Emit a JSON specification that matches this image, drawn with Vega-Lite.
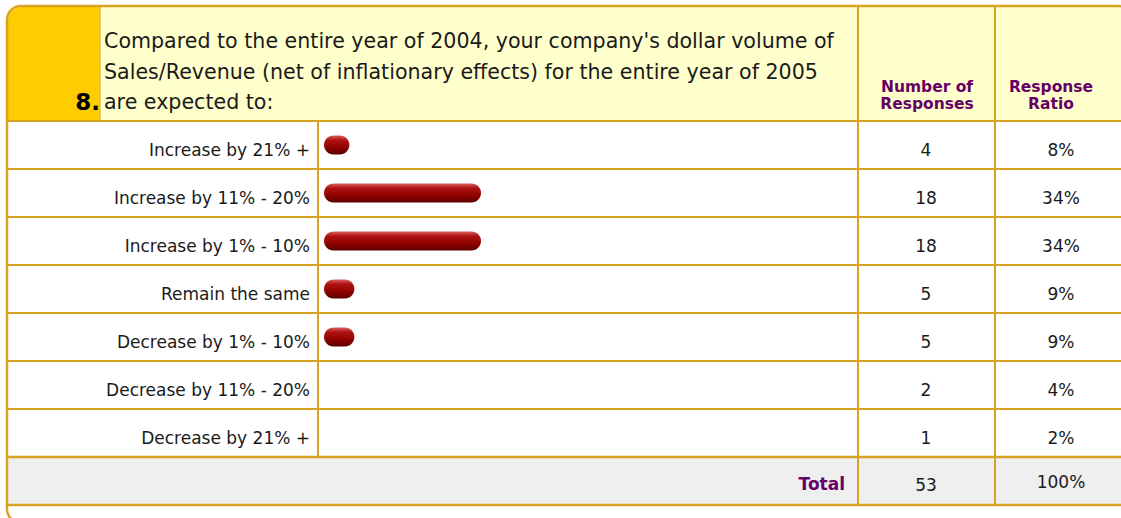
{
  "$schema": "https://vega.github.io/schema/vega-lite/v6.json",
  "width": 1121,
  "height": 518,
  "padding": 0,
  "autosize": {"type": "none"},
  "background": "white",
  "config": {"view": {"stroke": null}},
  "datasets": {
    "answers": [
      {"answer": "Increase by 21% +", "count": 4, "ratio": 0.08},
      {"answer": "Increase by 11% - 20%", "count": 18, "ratio": 0.34},
      {"answer": "Increase by 1% - 10%", "count": 18, "ratio": 0.34},
      {"answer": "Remain the same", "count": 5, "ratio": 0.09},
      {"answer": "Decrease by 1% - 10%", "count": 5, "ratio": 0.09},
      {"answer": "Decrease by 11% - 20%", "count": 2, "ratio": 0.04},
      {"answer": "Decrease by 21% +", "count": 1, "ratio": 0.02}
    ],
    "total": [
      {"answer": "Total", "count": 53, "ratio": 1.0}
    ],
    "question": [
      {"number": "8.", "text": "Compared to the entire year of 2004, your company's dollar volume of\nSales/Revenue (net of inflationary effects) for the entire year of 2005\nare expected to:", "countHeader": "Number of\nResponses", "ratioHeader": "Response\nRatio"}
    ]
  },
  "layer": [
    {
      "data": {"name": "question"},
      "mark": {"type": "rect", "fill": "#FFFFCC", "cornerRadiusTopRight": 14},
      "encoding": {"x": {"value": 8}, "x2": {"value": 1128}, "y": {"value": 7}, "y2": {"value": 120}}
    },
    {
      "data": {"name": "question"},
      "mark": {"type": "rect", "fill": "#FFCC00", "cornerRadiusTopLeft": 14},
      "encoding": {"x": {"value": 8}, "x2": {"value": 100}, "y": {"value": 7}, "y2": {"value": 120}}
    },
    {
      "data": {"name": "total"},
      "mark": {"type": "rect", "fill": "#EFEFEF"},
      "encoding": {
        "y": {"field": "answer", "type": "nominal", "axis": null,
              "scale": {"type": "band", "domain": ["Increase by 21% +", "Increase by 11% - 20%", "Increase by 1% - 10%", "Remain the same", "Decrease by 1% - 10%", "Decrease by 11% - 20%", "Decrease by 21% +", "Total"], "range": [121, 505], "paddingInner": 0, "paddingOuter": 0}},
        "x": {"value": 8}, "x2": {"value": 1128}
      }
    },
    {
      "data": {"name": "answers"},
      "transform": [{"filter": "datum.ratio >= 0.05"}],
      "mark": {"type": "bar", "height": 19, "cornerRadius": 9.5,
               "color": {"gradient": "linear", "x1": 0, "y1": 0, "x2": 0, "y2": 1,
                         "stops": [{"offset": 0, "color": "#d86060"}, {"offset": 0.25, "color": "#ad1212"}, {"offset": 0.7, "color": "#8a0000"}, {"offset": 1, "color": "#5a0000"}]}},
      "encoding": {
        "y": {"field": "answer", "type": "nominal", "axis": null,
              "scale": {"type": "band", "domain": ["Increase by 21% +", "Increase by 11% - 20%", "Increase by 1% - 10%", "Remain the same", "Decrease by 1% - 10%", "Decrease by 11% - 20%", "Decrease by 21% +", "Total"], "range": [121, 505], "paddingInner": 0, "paddingOuter": 0}},
        "x": {"field": "ratio", "type": "quantitative", "axis": null,
              "scale": {"domain": [0.03, 0.34], "range": [324, 481], "clamp": true, "zero": false, "nice": false}},
        "x2": {"datum": 0}
      }
    },
    {
      "data": {"name": "answers"},
      "mark": {"type": "rule", "color": "#D6A422", "strokeWidth": 2},
      "encoding": {
        "y": {"field": "answer", "type": "nominal", "axis": null, "bandPosition": 0,
              "scale": {"type": "band", "domain": ["Increase by 21% +", "Increase by 11% - 20%", "Increase by 1% - 10%", "Remain the same", "Decrease by 1% - 10%", "Decrease by 11% - 20%", "Decrease by 21% +", "Total"], "range": [121, 505], "paddingInner": 0, "paddingOuter": 0}},
        "x": {"value": 8}, "x2": {"value": 1128}
      }
    },
    {
      "data": {"name": "total"},
      "mark": {"type": "rule", "color": "#D6A422", "strokeWidth": 2.5},
      "encoding": {
        "y": {"field": "answer", "type": "nominal", "axis": null, "bandPosition": 0,
              "scale": {"type": "band", "domain": ["Increase by 21% +", "Increase by 11% - 20%", "Increase by 1% - 10%", "Remain the same", "Decrease by 1% - 10%", "Decrease by 11% - 20%", "Decrease by 21% +", "Total"], "range": [121, 505], "paddingInner": 0, "paddingOuter": 0}},
        "x": {"value": 8}, "x2": {"value": 1128}
      }
    },
    {
      "data": {"name": "total"},
      "mark": {"type": "rule", "color": "#D6A422", "strokeWidth": 2.5},
      "encoding": {
        "y": {"field": "answer", "type": "nominal", "axis": null, "bandPosition": 1,
              "scale": {"type": "band", "domain": ["Increase by 21% +", "Increase by 11% - 20%", "Increase by 1% - 10%", "Remain the same", "Decrease by 1% - 10%", "Decrease by 11% - 20%", "Decrease by 21% +", "Total"], "range": [121, 505], "paddingInner": 0, "paddingOuter": 0}},
        "x": {"value": 8}, "x2": {"value": 1128}
      }
    },
    {
      "data": {"name": "question"},
      "mark": {"type": "rule", "color": "#D6A422", "strokeWidth": 2},
      "encoding": {"x": {"value": 318}, "y": {"value": 121}, "y2": {"value": 457}}
    },
    {
      "data": {"name": "question"},
      "mark": {"type": "rule", "color": "#D6A422", "strokeWidth": 2},
      "encoding": {"x": {"value": 858}, "y": {"value": 7}, "y2": {"value": 505}}
    },
    {
      "data": {"name": "question"},
      "mark": {"type": "rule", "color": "#D6A422", "strokeWidth": 2},
      "encoding": {"x": {"value": 995}, "y": {"value": 7}, "y2": {"value": 505}}
    },
    {
      "data": {"name": "question"},
      "mark": {"type": "rule", "color": "#D6A422", "strokeWidth": 1},
      "encoding": {"x": {"value": 100}, "y": {"value": 7}, "y2": {"value": 120}}
    },
    {
      "data": {"name": "question"},
      "mark": {"type": "rect", "fill": null, "fillOpacity": 0, "stroke": "#D6A422", "strokeWidth": 2.5, "cornerRadius": 14},
      "encoding": {"x": {"value": 7}, "x2": {"value": 1132}, "y": {"value": 6}, "y2": {"value": 523}}
    },
    {
      "data": {"name": "question"},
      "mark": {"type": "text", "align": "left", "baseline": "alphabetic", "font": "DejaVu Sans", "fontSize": 20.6, "lineHeight": 30.5, "lineBreak": "\n", "color": "#1a1a1a"},
      "encoding": {"x": {"value": 104}, "y": {"value": 48}, "text": {"field": "text", "type": "nominal"}}
    },
    {
      "data": {"name": "question"},
      "mark": {"type": "text", "align": "right", "baseline": "alphabetic", "font": "DejaVu Sans", "fontWeight": "bold", "fontSize": 23, "color": "#000000"},
      "encoding": {"x": {"value": 100}, "y": {"value": 110}, "text": {"field": "number", "type": "nominal"}}
    },
    {
      "data": {"name": "question"},
      "mark": {"type": "text", "align": "center", "baseline": "alphabetic", "font": "DejaVu Sans", "fontWeight": "bold", "fontSize": 15.5, "lineHeight": 17, "lineBreak": "\n", "color": "#660066"},
      "encoding": {"x": {"value": 927}, "y": {"value": 92}, "text": {"field": "countHeader", "type": "nominal"}}
    },
    {
      "data": {"name": "question"},
      "mark": {"type": "text", "align": "center", "baseline": "alphabetic", "font": "DejaVu Sans", "fontWeight": "bold", "fontSize": 15.5, "lineHeight": 17, "lineBreak": "\n", "color": "#660066"},
      "encoding": {"x": {"value": 1051}, "y": {"value": 92}, "text": {"field": "ratioHeader", "type": "nominal"}}
    },
    {
      "data": {"name": "answers"},
      "mark": {"type": "text", "align": "right", "baseline": "alphabetic", "font": "DejaVu Sans", "fontSize": 17, "dy": 11, "color": "#1a1a1a"},
      "encoding": {
        "y": {"field": "answer", "type": "nominal", "axis": null, "bandPosition": 0.5,
              "scale": {"type": "band", "domain": ["Increase by 21% +", "Increase by 11% - 20%", "Increase by 1% - 10%", "Remain the same", "Decrease by 1% - 10%", "Decrease by 11% - 20%", "Decrease by 21% +", "Total"], "range": [121, 505], "paddingInner": 0, "paddingOuter": 0}},
        "x": {"value": 310},
        "text": {"field": "answer", "type": "nominal"}
      }
    },
    {
      "data": {"name": "answers"},
      "mark": {"type": "text", "align": "center", "baseline": "alphabetic", "font": "DejaVu Sans", "fontSize": 17, "dy": 11, "color": "#1a1a1a"},
      "encoding": {
        "y": {"field": "answer", "type": "nominal", "axis": null, "bandPosition": 0.5,
              "scale": {"type": "band", "domain": ["Increase by 21% +", "Increase by 11% - 20%", "Increase by 1% - 10%", "Remain the same", "Decrease by 1% - 10%", "Decrease by 11% - 20%", "Decrease by 21% +", "Total"], "range": [121, 505], "paddingInner": 0, "paddingOuter": 0}},
        "x": {"value": 926},
        "text": {"field": "count", "type": "quantitative", "format": "d"}
      }
    },
    {
      "data": {"name": "answers"},
      "mark": {"type": "text", "align": "center", "baseline": "alphabetic", "font": "DejaVu Sans", "fontSize": 17, "dy": 11, "color": "#1a1a1a"},
      "encoding": {
        "y": {"field": "answer", "type": "nominal", "axis": null, "bandPosition": 0.5,
              "scale": {"type": "band", "domain": ["Increase by 21% +", "Increase by 11% - 20%", "Increase by 1% - 10%", "Remain the same", "Decrease by 1% - 10%", "Decrease by 11% - 20%", "Decrease by 21% +", "Total"], "range": [121, 505], "paddingInner": 0, "paddingOuter": 0}},
        "x": {"value": 1061},
        "text": {"field": "ratio", "type": "quantitative", "format": ".0%"}
      }
    },
    {
      "data": {"name": "total"},
      "mark": {"type": "text", "align": "right", "baseline": "alphabetic", "font": "DejaVu Sans", "fontWeight": "bold", "fontSize": 17, "dy": 9, "color": "#660066"},
      "encoding": {
        "y": {"field": "answer", "type": "nominal", "axis": null, "bandPosition": 0.5,
              "scale": {"type": "band", "domain": ["Increase by 21% +", "Increase by 11% - 20%", "Increase by 1% - 10%", "Remain the same", "Decrease by 1% - 10%", "Decrease by 11% - 20%", "Decrease by 21% +", "Total"], "range": [121, 505], "paddingInner": 0, "paddingOuter": 0}},
        "x": {"value": 845},
        "text": {"field": "answer", "type": "nominal"}
      }
    },
    {
      "data": {"name": "total"},
      "mark": {"type": "text", "align": "center", "baseline": "alphabetic", "font": "DejaVu Sans", "fontSize": 17, "dy": 10, "color": "#1a1a1a"},
      "encoding": {
        "y": {"field": "answer", "type": "nominal", "axis": null, "bandPosition": 0.5,
              "scale": {"type": "band", "domain": ["Increase by 21% +", "Increase by 11% - 20%", "Increase by 1% - 10%", "Remain the same", "Decrease by 1% - 10%", "Decrease by 11% - 20%", "Decrease by 21% +", "Total"], "range": [121, 505], "paddingInner": 0, "paddingOuter": 0}},
        "x": {"value": 926},
        "text": {"field": "count", "type": "quantitative", "format": "d"}
      }
    },
    {
      "data": {"name": "total"},
      "mark": {"type": "text", "align": "center", "baseline": "alphabetic", "font": "DejaVu Sans", "fontSize": 17, "dy": 7, "color": "#1a1a1a"},
      "encoding": {
        "y": {"field": "answer", "type": "nominal", "axis": null, "bandPosition": 0.5,
              "scale": {"type": "band", "domain": ["Increase by 21% +", "Increase by 11% - 20%", "Increase by 1% - 10%", "Remain the same", "Decrease by 1% - 10%", "Decrease by 11% - 20%", "Decrease by 21% +", "Total"], "range": [121, 505], "paddingInner": 0, "paddingOuter": 0}},
        "x": {"value": 1061},
        "text": {"field": "ratio", "type": "quantitative", "format": ".0%"}
      }
    }
  ]
}
